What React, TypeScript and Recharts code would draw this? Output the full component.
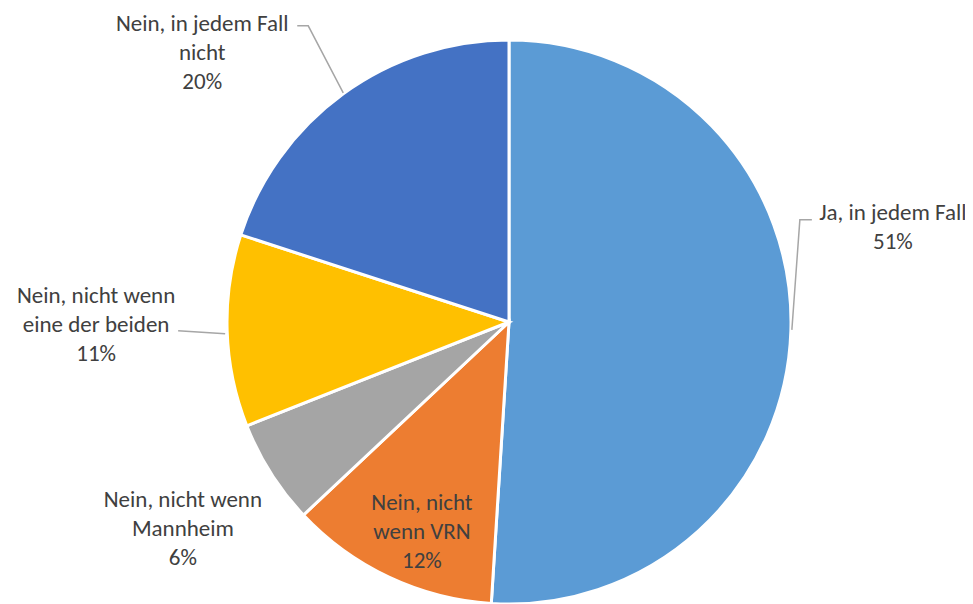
import React from "react";
import { PieChart, Pie, Cell } from "recharts";

const categories = [
  "Ja, in jedem Fall",
  "Nein, nicht wenn VRN",
  "Nein, nicht wenn Mannheim",
  "Nein, nicht wenn eine der beiden",
  "Nein, in jedem Fall nicht",
];
const values = [51, 12, 6, 11, 20];
const labelLines = [
  ["Ja, in jedem Fall"],
  ["Nein, nicht", "wenn VRN"],
  ["Nein, nicht wenn", "Mannheim"],
  ["Nein, nicht wenn", "eine der beiden"],
  ["Nein, in jedem Fall", "nicht"],
];
const colors = ["#5B9BD5", "#ED7D31", "#A5A5A5", "#FFC000", "#4472C4"];

// label placement relative to the slice's outer mid point
const labelPlacement = [
  { dx: 102, dy: -111, line: [[1, -1], [9, -111], [21, -111]] },
  { dx: 33, dy: -67, line: null },
  { dx: -88, dy: 34, line: null },
  { dx: -131, dy: -28, line: [[-2, 3], [-49, 0]] },
  { dx: -141, dy: -63, line: [[0, -1], [-35, -68], [-46, -68]] },
];

const data = categories.map((name, i) => ({ name, value: values[i] }));

const RADIAN = Math.PI / 180;
const FONT = "Carlito, Lato, sans-serif";

const renderLabel = (props: any) => {
  const { cx, cy, midAngle, outerRadius, index, value } = props;
  const px = cx + outerRadius * Math.cos(-midAngle * RADIAN);
  const py = cy + outerRadius * Math.sin(-midAngle * RADIAN);
  const pl = labelPlacement[index];
  const tx = px + pl.dx;
  const ty = py + pl.dy;
  const lines = [...labelLines[index], `${value}%`];
  return (
    <g key={`lbl-${index}`}>
      {pl.line && (
        <polyline
          points={pl.line.map(([a, b]) => `${px + a},${py + b}`).join(" ")}
          fill="none"
          stroke="#A6A6A6"
          strokeWidth={1.5}
        />
      )}
      <text
        x={tx}
        y={ty}
        textAnchor="middle"
        fill="#404040"
        fontFamily={FONT}
        fontSize={23}
      >
        {lines.map((l, i) => (
          <tspan key={i} x={tx} y={ty + i * 29}>
            {l}
          </tspan>
        ))}
      </text>
    </g>
  );
};

export default function App() {
  return (
    <div style={{ width: 965, height: 596, background: "#fff" }}>
      <PieChart
        width={965}
        height={596}
        margin={{ top: 0, right: 0, bottom: 0, left: 0 }}
      >
        <Pie
          data={data}
          dataKey="value"
          nameKey="name"
          cx={501}
          cy={314}
          outerRadius={282}
          startAngle={90}
          endAngle={-270}
          stroke="#FFFFFF"
          strokeWidth={3}
          labelLine={false}
          label={renderLabel}
          isAnimationActive={false}
        >
          {data.map((d, i) => (
            <Cell key={d.name} fill={colors[i]} />
          ))}
        </Pie>
      </PieChart>
    </div>
  );
}
